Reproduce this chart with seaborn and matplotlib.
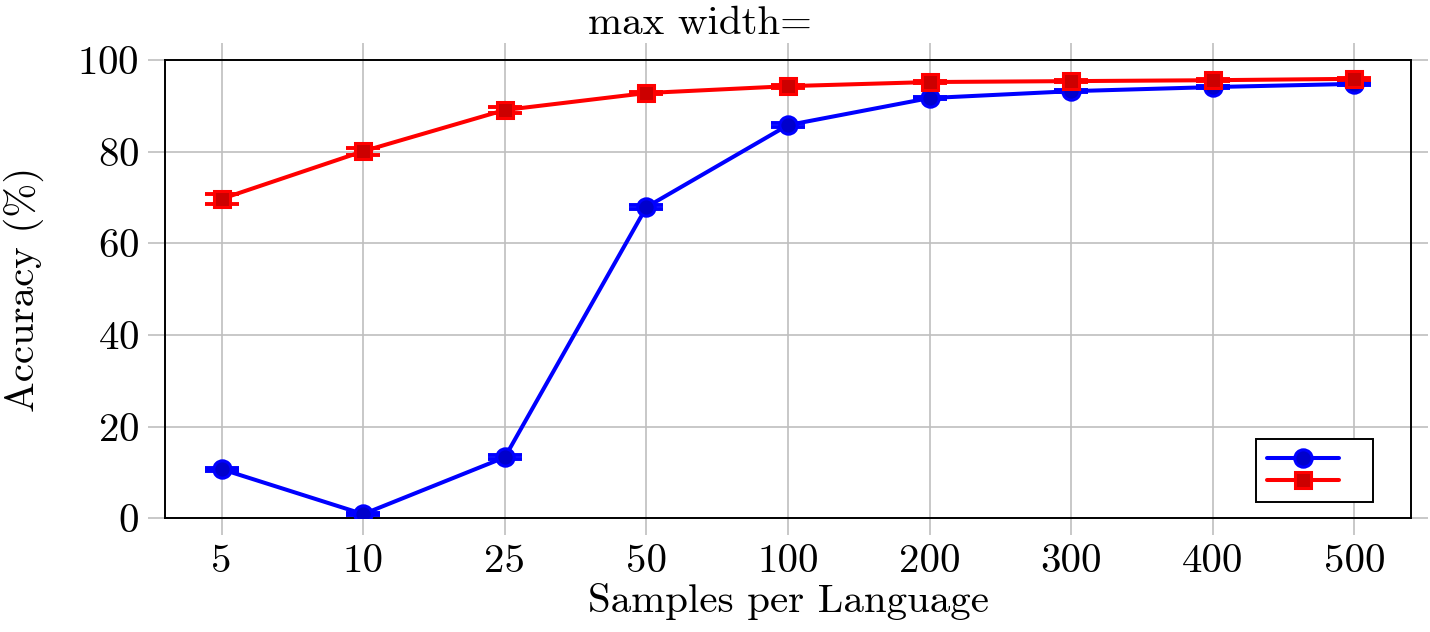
import matplotlib
matplotlib.use("Agg")
import matplotlib.pyplot as plt
from matplotlib.lines import Line2D
import seaborn as sns
import numpy as np
import pandas as pd

samples = ["5", "10", "25", "50", "100", "200", "300", "400", "500"]
acc_blue = [10.7, 0.9, 13.3, 67.9, 85.8, 91.7, 93.2, 94.1, 94.8]
err_blue = [0.3, 0.2, 0.4, 0.4, 0.4, 0.3, 0.2, 0.2, 0.2]
acc_red = [69.7, 80.1, 89.1, 92.8, 94.3, 95.2, 95.4, 95.6, 95.9]
err_red = [1.1, 0.8, 0.6, 0.3, 0.3, 0.2, 0.2, 0.2, 0.2]

sns.set_theme(style="ticks")
plt.rcParams["font.family"] = ["cmr10", "DejaVu Serif"]
plt.rcParams["mathtext.fontset"] = "cm"
plt.rcParams["axes.formatter.use_mathtext"] = True
plt.rcParams["text.color"] = "black"
plt.rcParams["axes.labelcolor"] = "black"
plt.rcParams["xtick.labelcolor"] = "black"
plt.rcParams["ytick.labelcolor"] = "black"

pos = np.arange(len(samples))
df = pd.DataFrame({
    "x": np.concatenate([pos, pos]),
    "acc": acc_blue + acc_red,
    "err": err_blue + err_red,
    "run": ["a"] * len(pos) + ["b"] * len(pos),
})

fig, ax = plt.subplots(figsize=(14.3, 6.32), dpi=100)
fig.subplots_adjust(left=0.1154, right=0.9867, top=0.905, bottom=0.18)

styles = {"a": ("#0000ff", "#0000cc", "o", 12.5), "b": ("#ff0000", "#cc0000", "s", 11.5)}
handles = []
for run, sub in df.groupby("run"):
    col, face, mk, ms = styles[run]
    ax.errorbar(sub["x"], sub["acc"], yerr=sub["err"], fmt="none", ecolor=col,
                elinewidth=2.5, capsize=12, capthick=2.8, zorder=3)
    sns.lineplot(data=sub, x="x", y="acc", ax=ax, color=col, lw=2.9,
                 marker=mk, markersize=ms, markerfacecolor=face,
                 markeredgecolor=col, markeredgewidth=2.2, zorder=4,
                 legend=False)
    handles.append(Line2D([], [], color=col, lw=2.9, marker=mk, markersize=ms,
                          markerfacecolor=face, markeredgecolor=col,
                          markeredgewidth=2.2))

ax.set_xlim(-0.4, len(samples) - 0.6)
ax.set_ylim(0, 100)
ax.set_xticks(pos)
ax.set_xticklabels(samples)
ax.set_yticks([0, 20, 40, 60, 80, 100])
ax.grid(True, color="#bfbfbf", lw=1.2, zorder=0)
ax.set_axisbelow(True)
ax.tick_params(axis="both", which="major", direction="out", length=12.5,
               width=1.2, color="#bfbfbf", labelsize=29.5, pad=6,
               top=True, right=True, labeltop=False, labelright=False)
for s in ax.spines.values():
    s.set_color("black")
    s.set_linewidth(1.4)

ax.set_xlabel("Samples per Language", fontsize=29.5, labelpad=2)
ax.set_ylabel("Accuracy (%)", fontsize=29.5, labelpad=24)
ax.set_title("max width=", fontsize=29.5, pad=19, x=0.429)

leg = ax.legend(handles, ["", ""], loc="lower right", fancybox=False,
                framealpha=1, edgecolor="black", borderpad=0.6,
                labelspacing=0.2, handlelength=3.66, handletextpad=1.17,
                fontsize=14, borderaxespad=0, bbox_to_anchor=(0.9695, 0.035))
leg.get_frame().set_linewidth(1.4)

fig.savefig("out.png", dpi=100)
